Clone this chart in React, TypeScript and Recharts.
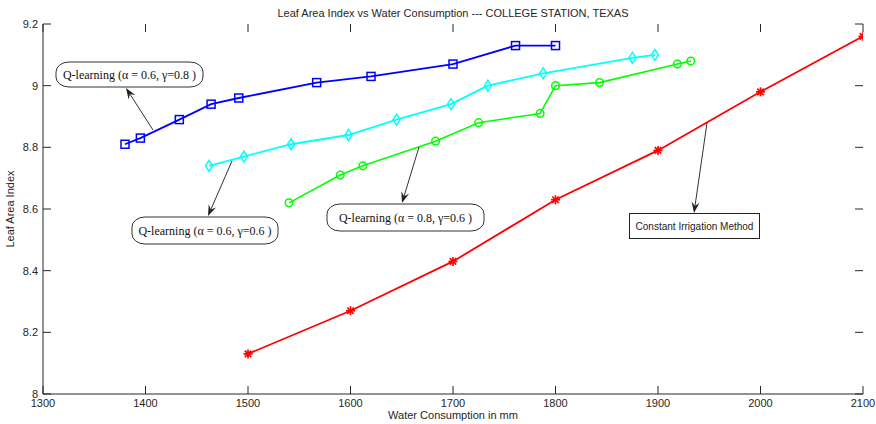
import React from 'react';
import { LineChart, Line, XAxis, YAxis, ReferenceLine } from 'recharts';

const xTicks = [1300, 1400, 1500, 1600, 1700, 1800, 1900, 2000, 2100];
const yTicks = [8, 8.2, 8.4, 8.6, 8.8, 9, 9.2];

const blueX = [1380, 1395, 1433, 1464, 1491, 1567, 1620, 1700, 1761, 1800];
const blueY = [8.81, 8.83, 8.89, 8.94, 8.96, 9.01, 9.03, 9.07, 9.13, 9.13];

const cyanX = [1462, 1496, 1542, 1598, 1645, 1698, 1734, 1788, 1875, 1897];
const cyanY = [8.74, 8.77, 8.81, 8.84, 8.89, 8.94, 9.0, 9.04, 9.09, 9.1];

const greenX = [1540, 1590, 1612, 1683, 1725, 1785, 1800, 1843, 1919, 1932];
const greenY = [8.62, 8.71, 8.74, 8.82, 8.88, 8.91, 9.0, 9.01, 9.07, 9.08];

const redX = [1500, 1600, 1700, 1800, 1900, 2000, 2100];
const redY = [8.13, 8.27, 8.43, 8.63, 8.79, 8.98, 9.16];

const toPts = (xs: number[], ys: number[]) => xs.map((x, i) => ({ x, y: ys[i] }));
const blueData = toPts(blueX, blueY);
const cyanData = toPts(cyanX, cyanY);
const greenData = toPts(greenX, greenY);
const redData = toPts(redX, redY);

const X_MIN = 1300;
const X_MAX = 2100;
const Y_MIN = 8;
const Y_MAX = 9.2;
// tick length in data units (about 8px inside the frame)
const X_TICK_LEN = 7.8;
const Y_TICK_LEN = 0.026;

const AX = '#262626';
const SANS = '"Liberation Sans", Arial, sans-serif';
const SERIF = '"Liberation Serif", "Times New Roman", serif';

const fmt = (v: number) => String(Number(v.toFixed(1)));

const BottomTick = (p: any) => (
  <text x={p.x} y={p.y + 13} textAnchor="middle" fontSize={11} fontFamily={SANS} fill={AX}>
    {fmt(p.payload.value)}
  </text>
);
const LeftTick = (p: any) => (
  <text x={p.x - 5} y={p.y + 4} textAnchor="end" fontSize={11} fontFamily={SANS} fill={AX}>
    {fmt(p.payload.value)}
  </text>
);

const SquareDot = (p: any) => (
  <rect key={p.index} x={p.cx - 4} y={p.cy - 4} width={8} height={8} fill="none" stroke="#0000FF" strokeWidth={1.5} />
);
const DiamondDot = (p: any) => (
  <polygon
    key={p.index}
    points={`${p.cx},${p.cy - 5.5} ${p.cx + 3.5},${p.cy} ${p.cx},${p.cy + 5.5} ${p.cx - 3.5},${p.cy}`}
    fill="none"
    stroke="#00FFFF"
    strokeWidth={1.5}
  />
);
const CircleDot = (p: any) => (
  <circle key={p.index} cx={p.cx} cy={p.cy} r={3.8} fill="none" stroke="#00FF00" strokeWidth={1.5} />
);
const StarDot = (p: any) => {
  const s = 4.5;
  const d = s * 0.72;
  return (
    <g key={p.index} stroke="#FF0000" strokeWidth={1.7}>
      <line x1={p.cx} x2={p.cx} y1={p.cy - s} y2={p.cy + s} />
      <line x1={p.cx - s} x2={p.cx + s} y1={p.cy} y2={p.cy} />
      <line x1={p.cx - d} x2={p.cx + d} y1={p.cy - d} y2={p.cy + d} />
      <line x1={p.cx - d} x2={p.cx + d} y1={p.cy + d} y2={p.cy - d} />
    </g>
  );
};

const Arrow = ({ x1, y1, x2, y2 }: { x1: number; y1: number; x2: number; y2: number }) => {
  const dx = x2 - x1;
  const dy = y2 - y1;
  const len = Math.sqrt(dx * dx + dy * dy);
  const ux = dx / len;
  const uy = dy / len;
  const hl = 11;
  const hw = 4;
  const bx = x2 - ux * hl;
  const by = y2 - uy * hl;
  const nx = -uy;
  const ny = ux;
  const ix = x2 - ux * hl * 0.65;
  const iy = y2 - uy * hl * 0.65;
  return (
    <g>
      <line x1={x1} y1={y1} x2={ix} y2={iy} stroke="#333" strokeWidth={1} />
      <polygon
        points={`${x2},${y2} ${bx + nx * hw},${by + ny * hw} ${ix},${iy} ${bx - nx * hw},${by - ny * hw}`}
        fill="#222"
      />
    </g>
  );
};

const RoundBox = ({ x, y, w, h, label }: { x: number; y: number; w: number; h: number; label: string }) => (
  <g>
    <rect x={x} y={y} width={w} height={h} rx={13} ry={10} fill="#fff" stroke="#333" strokeWidth={1} />
    <text x={x + w / 2} y={y + h / 2 + 4.5} textAnchor="middle" fontSize={12} fontFamily={SERIF} fill="#111">
      {label}
    </text>
  </g>
);

const axisCommon = {
  allowDataOverflow: true,
  tickLine: false,
  tickSize: 0,
  tickMargin: 0,
  axisLine: { stroke: AX },
  interval: 0 as const,
};

const tickRef = { stroke: AX, strokeWidth: 1, ifOverflow: 'visible' as const, xAxisId: 'b', yAxisId: 'l' };

export default function App() {
  return (
    <div style={{ position: 'absolute', left: 0, top: 0, width: 876, height: 424, background: '#fff' }}>
      <LineChart width={876} height={424} margin={{ top: 24, right: 13, bottom: 0, left: 0 }}>
        <XAxis
          xAxisId="b"
          type="number"
          dataKey="x"
          domain={[X_MIN, X_MAX]}
          ticks={xTicks}
          height={30}
          tick={<BottomTick />}
          {...axisCommon}
        />
        <XAxis
          xAxisId="t"
          orientation="top"
          type="number"
          dataKey="x"
          domain={[X_MIN, X_MAX]}
          ticks={xTicks}
          height={0}
          tick={false}
          {...axisCommon}
        />
        <YAxis
          yAxisId="l"
          type="number"
          domain={[Y_MIN, Y_MAX]}
          ticks={yTicks}
          width={43}
          tick={<LeftTick />}
          {...axisCommon}
        />
        <YAxis
          yAxisId="r"
          orientation="right"
          type="number"
          domain={[Y_MIN, Y_MAX]}
          ticks={yTicks}
          width={0}
          tick={false}
          {...axisCommon}
        />
        {xTicks.map((t) => (
          <ReferenceLine key={`xb${t}`} {...tickRef} segment={[{ x: t, y: Y_MIN }, { x: t, y: Y_MIN + Y_TICK_LEN }]} />
        ))}
        {xTicks.map((t) => (
          <ReferenceLine key={`xt${t}`} {...tickRef} segment={[{ x: t, y: Y_MAX }, { x: t, y: Y_MAX - Y_TICK_LEN }]} />
        ))}
        {yTicks.map((t) => (
          <ReferenceLine key={`yl${t}`} {...tickRef} segment={[{ x: X_MIN, y: t }, { x: X_MIN + X_TICK_LEN, y: t }]} />
        ))}
        {yTicks.map((t) => (
          <ReferenceLine key={`yr${t}`} {...tickRef} segment={[{ x: X_MAX, y: t }, { x: X_MAX - X_TICK_LEN, y: t }]} />
        ))}
        <Line xAxisId="b" yAxisId="l" data={redData} dataKey="y" stroke="#FF0000" strokeWidth={1.8} dot={<StarDot />} isAnimationActive={false} />
        <Line xAxisId="b" yAxisId="l" data={greenData} dataKey="y" stroke="#00FF00" strokeWidth={1.6} dot={<CircleDot />} isAnimationActive={false} />
        <Line xAxisId="b" yAxisId="l" data={cyanData} dataKey="y" stroke="#00FFFF" strokeWidth={1.8} dot={<DiamondDot />} isAnimationActive={false} />
        <Line xAxisId="b" yAxisId="l" data={blueData} dataKey="y" stroke="#0000FF" strokeWidth={1.8} dot={<SquareDot />} isAnimationActive={false} />
      </LineChart>
      <svg width={876} height={424} style={{ position: 'absolute', left: 0, top: 0, pointerEvents: 'none' }}>
        <text x={453} y={17} textAnchor="middle" fontSize={11} fontFamily={SANS} fill={AX}>
          Leaf Area Index vs Water Consumption --- COLLEGE STATION, TEXAS
        </text>
        <text x={453} y={419} textAnchor="middle" fontSize={11} fontFamily={SANS} fill={AX}>
          Water Consumption in mm
        </text>
        <text x={14} y={209} textAnchor="middle" fontSize={11} fontFamily={SANS} fill={AX} transform="rotate(-90 14 209)">
          Leaf Area Index
        </text>

        <Arrow x1={153} y1={130} x2={126} y2={88} />
        <Arrow x1={232} y1={161} x2={208} y2={216} />
        <Arrow x1={419} y1={147} x2={402} y2={203} />
        <Arrow x1={707} y1={123} x2={694} y2={213} />

        <RoundBox x={56} y={62} w={147} h={25} label="Q-learning (α = 0.6, γ=0.8 )" />
        <RoundBox x={132} y={217} w={146} h={27} label="Q-learning (α = 0.6, γ=0.6 )" />
        <RoundBox x={327} y={204} w={157} h={27} label="Q-learning (α = 0.8, γ=0.6 )" />
        <g>
          <rect x={629.5} y={213.5} width={130} height={25} fill="#fff" stroke="#222" strokeWidth={1} />
          <text x={694.5} y={229.5} textAnchor="middle" fontSize={10} fontFamily={SANS} fill="#222">
            Constant Irrigation Method
          </text>
        </g>
      </svg>
    </div>
  );
}
